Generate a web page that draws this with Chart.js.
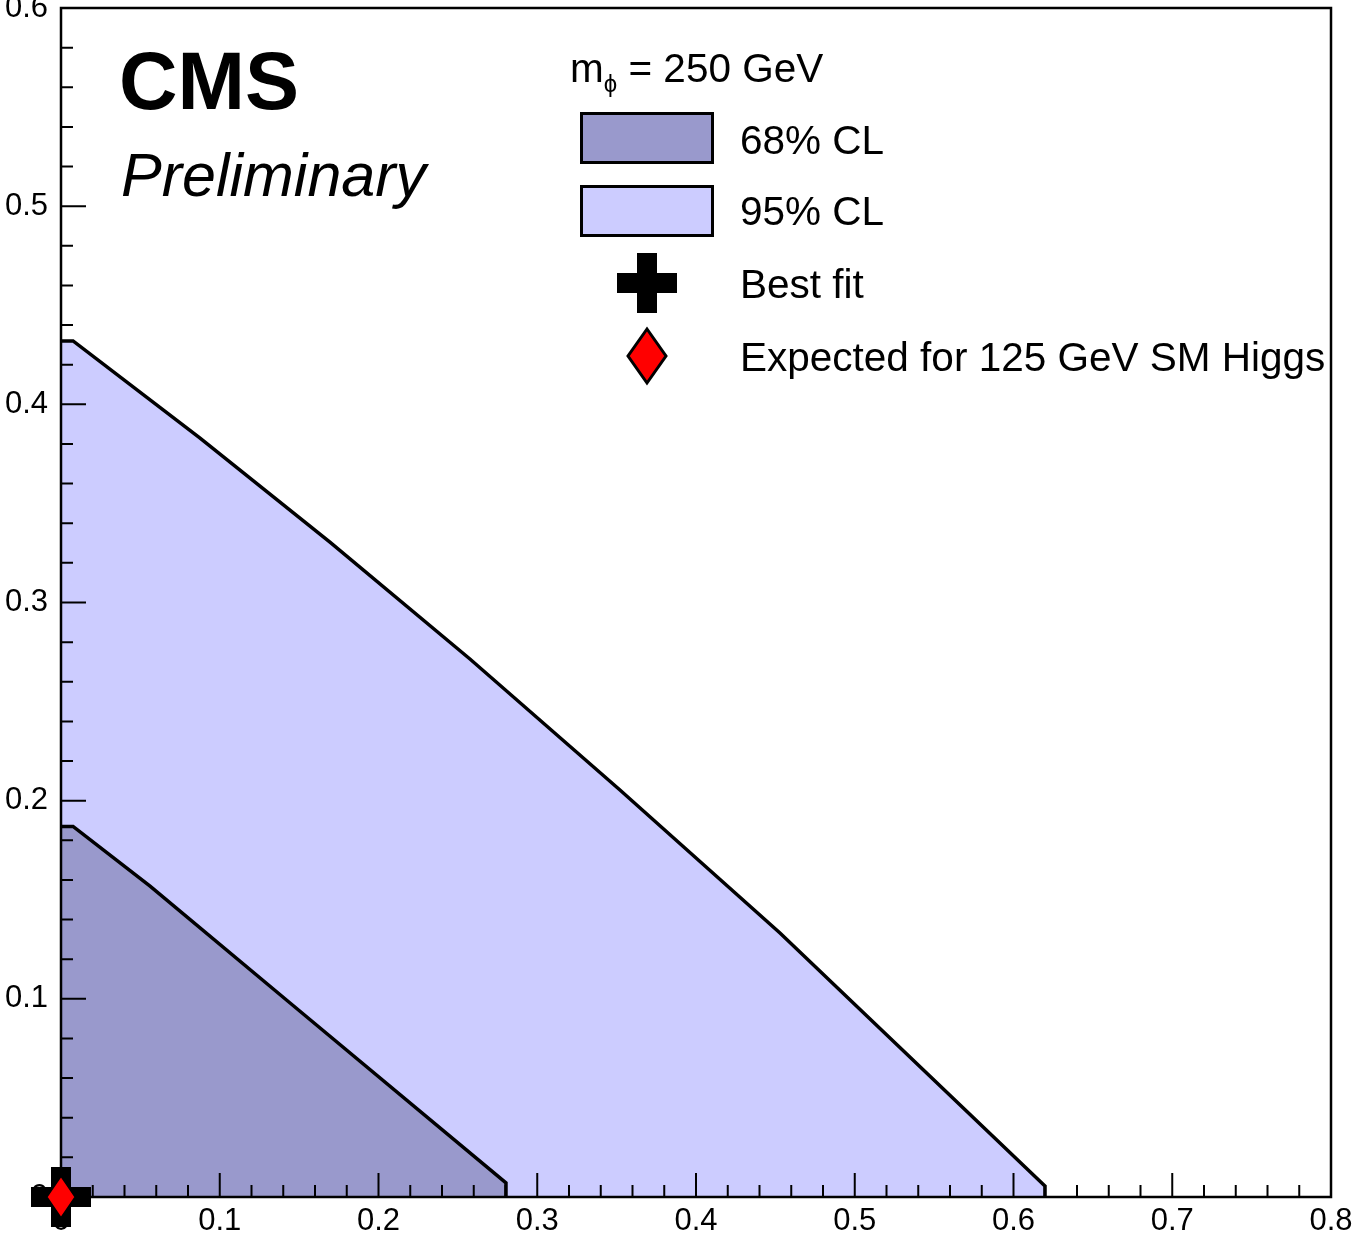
<!DOCTYPE html>
<html>
<head>
<meta charset="utf-8">
<script src="https://cdn.jsdelivr.net/npm/chart.js@4.4.1/dist/chart.umd.min.js"></script>
<style>
body { margin: 0; background: #fff; font-family: "Liberation Sans", Arial, sans-serif; }
#wrap { position: relative; width: 1354px; height: 1241px; overflow: hidden; }
#c { position: absolute; left: 0; top: 0; }
.txt { position: absolute; white-space: nowrap; color: #000; line-height: 1; }
.leg { font-size: 40.5px; }
.box { position: absolute; box-sizing: border-box; border: 3px solid #000; width: 134px; height: 52px; }
</style>
</head>
<body>
<div id="wrap">
  <canvas id="c" width="1354" height="1241"></canvas>
  <div class="txt" style="left:119px; top:41px; font-size:81px; font-weight:bold;">CMS</div>
  <div class="txt" style="left:121px; top:145px; font-size:61px; font-style:italic;">Preliminary</div>

  <div class="txt leg" style="left:570px; top:48px;">m<span style="position:relative; top:10px; font-size:24px;">ϕ</span> = 250 GeV</div>
  <div class="box" style="left:580px; top:112px; background:#9999cc;"></div>
  <div class="txt leg" style="left:740px; top:120px;">68% CL</div>
  <div class="box" style="left:580px; top:185px; background:#ccccff;"></div>
  <div class="txt leg" style="left:740px; top:191px;">95% CL</div>
  <svg style="position:absolute; left:617px; top:253px;" width="60" height="60">
    <rect x="20" y="0" width="20" height="60" fill="#000"/>
    <rect x="0" y="20" width="60" height="20" fill="#000"/>
  </svg>
  <div class="txt leg" style="left:740px; top:264px;">Best fit</div>
  <svg style="position:absolute; left:625px; top:326px;" width="44" height="60">
    <polygon points="22,3 41,30 22,57 3,30" fill="#ff0000" stroke="#000" stroke-width="3"/>
  </svg>
  <div class="txt leg" style="left:740px; top:337px;">Expected for 125 GeV SM Higgs</div>
</div>
<script>
// contour outlines
const cl95X = [0, 0.0076, 0.0876, 0.1694, 0.2576, 0.3521, 0.4529, 0.6198, 0.6198];
const cl95Y = [0.432, 0.432, 0.3830, 0.3305, 0.2715, 0.2054, 0.1332, 0.0056, 0];
const cl68X = [0, 0.0076, 0.0561, 0.1443, 0.2803, 0.2803];
const cl68Y = [0.187, 0.187, 0.1569, 0.0979, 0.0071, 0];
const bestFitX = [0];
const bestFitY = [0];
const expectedX = [0];
const expectedY = [0];
const xTicks = [0, 0.1, 0.2, 0.3, 0.4, 0.5, 0.6, 0.7, 0.8];
const yTicks = [0, 0.1, 0.2, 0.3, 0.4, 0.5, 0.6];

const toPoints = (xs, ys) => xs.map((x, i) => ({ x: x, y: ys[i] }));
const FONT = '"Liberation Sans", Arial, sans-serif';

// red diamond marker
const diamond = document.createElement('canvas');
diamond.width = 34;
diamond.height = 48;
(function () {
    const g = diamond.getContext('2d');
    g.beginPath();
    g.moveTo(17, 2); g.lineTo(32, 24); g.lineTo(17, 46); g.lineTo(2, 24);
    g.closePath();
    g.fillStyle = '#ff0000';
    g.fill();
    g.lineWidth = 3;
    g.strokeStyle = '#000';
    g.stroke();
})();

// frame + inward ticks, drawn over the fills but under the markers
const frameTicks = {
    id: 'frameTicks',
    beforeDatasetDraw(chart, args) {
        if (args.index !== 2) return;
        const ctx = chart.ctx, a = chart.chartArea;
        const xs = chart.scales.x, ys = chart.scales.y;
        ctx.save();
        ctx.strokeStyle = '#000';
        ctx.lineWidth = 2;
        ctx.beginPath();
        for (let i = 0; i <= 40; i++) {
            const px = xs.getPixelForValue(i * 0.02);
            ctx.moveTo(px, a.bottom);
            ctx.lineTo(px, a.bottom - (i % 5 === 0 ? 24 : 12));
        }
        for (let i = 0; i <= 30; i++) {
            const py = ys.getPixelForValue(i * 0.02);
            ctx.moveTo(a.left, py);
            ctx.lineTo(a.left + (i % 5 === 0 ? 25 : 12), py);
        }
        ctx.stroke();
        ctx.lineWidth = 2.5;
        ctx.strokeRect(a.left, a.top, a.right - a.left, a.bottom - a.top);
        ctx.restore();
    }
};

new Chart(document.getElementById('c'), {
    type: 'scatter',
    data: {
        datasets: [
            {
                label: '95% CL',
                data: toPoints(cl95X, cl95Y),
                showLine: true,
                fill: 'origin',
                backgroundColor: '#ccccff',
                borderColor: '#000',
                borderWidth: 3.5,
                pointRadius: 0,
                tension: 0,
                order: 4
            },
            {
                label: '68% CL',
                data: toPoints(cl68X, cl68Y),
                showLine: true,
                fill: 'origin',
                backgroundColor: '#9999cc',
                borderColor: '#000',
                borderWidth: 3.5,
                pointRadius: 0,
                tension: 0,
                order: 3
            },
            {
                label: 'Best fit',
                data: toPoints(bestFitX, bestFitY),
                pointStyle: 'cross',
                pointRadius: 30,
                borderWidth: 20,
                borderColor: '#000',
                clip: false,
                order: 2
            },
            {
                label: 'Expected for 125 GeV SM Higgs',
                data: toPoints(expectedX, expectedY),
                pointStyle: diamond,
                pointRadius: 20,
                clip: false,
                order: 1
            }
        ]
    },
    options: {
        responsive: false,
        animation: false,
        devicePixelRatio: 1,
        layout: { autoPadding: false, padding: { left: 0, top: 8, right: 23, bottom: 0 } },
        plugins: { legend: { display: false }, tooltip: { enabled: false } },
        scales: {
            x: {
                type: 'linear',
                min: 0,
                max: 0.8,
                afterBuildTicks: s => { s.ticks = xTicks.map(v => ({ value: v })); },
                afterFit: s => { s.height = 44; s.paddingLeft = 0; s.paddingRight = 0; },
                grid: { display: false, drawTicks: false },
                border: { display: false },
                ticks: { color: '#000', padding: 6, maxRotation: 0, autoSkip: false, font: { family: FONT, size: 31 } }
            },
            y: {
                type: 'linear',
                min: 0,
                max: 0.6,
                afterBuildTicks: s => { s.ticks = yTicks.map(v => ({ value: v })); },
                afterFit: s => { s.width = 61; s.paddingTop = 0; s.paddingBottom = 0; },
                grid: { display: false, drawTicks: false },
                border: { display: false },
                ticks: { color: '#000', padding: 13, autoSkip: false, font: { family: FONT, size: 31 } }
            }
        }
    },
    plugins: [frameTicks]
});
</script>
</body>
</html>
